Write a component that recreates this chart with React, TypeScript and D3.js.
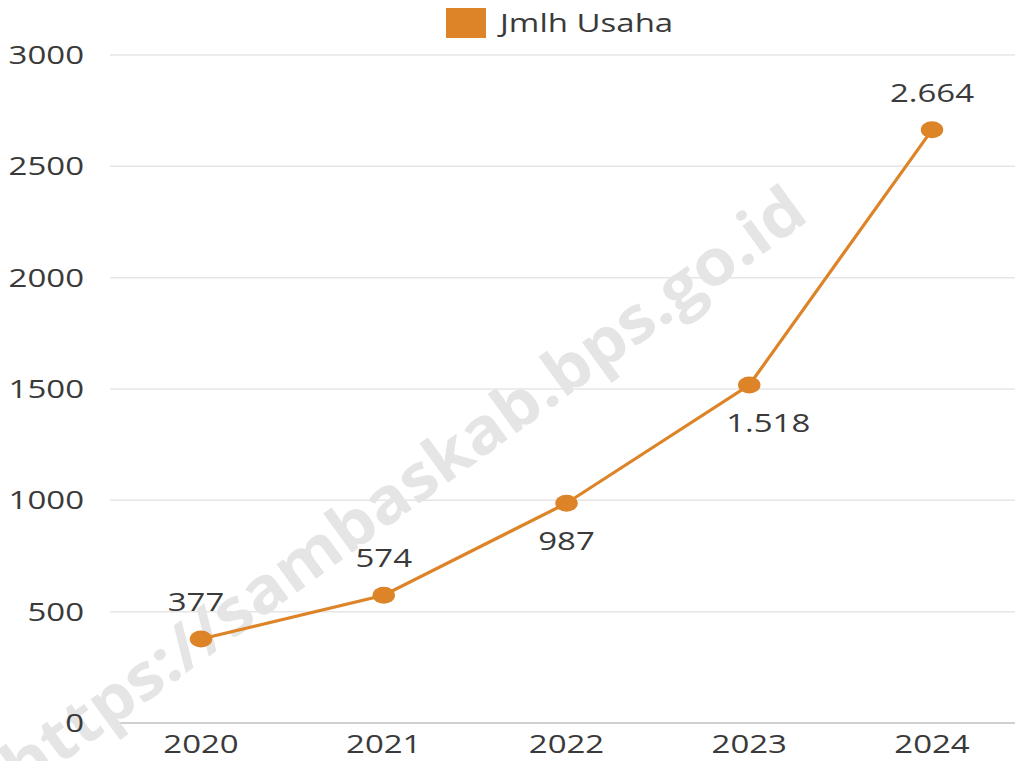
import React from "react";
import * as d3 from "d3";

const years = ["2020", "2021", "2022", "2023", "2024"];
const jmlhUsaha = [377, 574, 987, 1518, 2664];
const labelPlacement = ["above", "above", "below", "below", "above"];
const yTicks = [0, 500, 1000, 1500, 2000, 2500, 3000];
const seriesName = "Jmlh Usaha";
const watermark = "https://sambaskab.bps.go.id";

const W = 1015;
const H = 761;
const SX = 1.32;
const COLOR = "#dc8427";
const TEXT = "#3a3a3a";
const FONT = "'Open Sans', sans-serif";

const idLocale = d3.formatLocale({ decimal: ",", thousands: ".", grouping: [3], currency: ["Rp", ""] });
const fmt = idLocale.format(",d");

export default function App() {
  const x = d3.scalePoint<string>().domain(years).range([201, 932]);
  const y = d3.scaleLinear().domain([0, 3000]).range([723, 55]);
  const line = d3
    .line<number>()
    .x((_, i) => x(years[i]) as number)
    .y((d) => y(d));

  const T = (px: number, py: number, txt: string, anchor: string, size = 25, fill = TEXT) => (
    <text
      key={txt + px + py}
      transform={`translate(${px},${py}) scale(${SX},1)`}
      textAnchor={anchor}
      fontSize={size}
      fontFamily={FONT}
      fill={fill}
    >
      {txt}
    </text>
  );

  return (
    <svg width={W} height={H} style={{ position: "absolute", left: 0, top: 0, background: "#fff" }}>
      <rect x={0} y={0} width={W} height={H} fill="#fff" />
      {/* gridlines */}
      {yTicks.map((t) => (
        <line
          key={t}
          x1={110}
          x2={W}
          y1={y(t)}
          y2={y(t)}
          stroke={t === 0 ? "#d0d0d0" : "#e6e6e6"}
          strokeWidth={t === 0 ? 2 : 1.5}
        />
      ))}
      {/* watermark */}
      <text
        transform={`translate(402,486) rotate(-36)`}
        textAnchor="middle"
        dominantBaseline="central"
        fontSize={64}
        fontWeight="bold"
        fontFamily={FONT}
        fill="#e5e5e5"
        textLength={975}
        lengthAdjust="spacingAndGlyphs"
      >
        {watermark}
      </text>
      {/* y tick labels */}
      {yTicks.map((t) => T(84, y(t) + 9, String(t), "end"))}
      {/* x tick labels */}
      {years.map((yr) => T(x(yr) as number, 753, yr, "middle"))}
      {/* line */}
      <path d={line(jmlhUsaha) || ""} fill="none" stroke={COLOR} strokeWidth={3.2} />
      {jmlhUsaha.map((v, i) => (
        <ellipse key={i} cx={x(years[i])} cy={y(v)} rx={8.5 * SX} ry={8.5} fill={COLOR} />
      ))}
      {/* data labels */}
      {jmlhUsaha.map((v, i) => {
        const px = x(years[i]) as number;
        const py = y(v);
        const above = labelPlacement[i] === "above";
        const dx = i === 3 ? 19 : i === 0 ? -5 : 0;
        return T(px + dx, above ? py - 28 : py + 47, fmt(v), "middle");
      })}
      {/* legend */}
      <rect x={446} y={8} width={40} height={30} fill={COLOR} />
      {T(500, 32, seriesName, "start")}
    </svg>
  );
}
